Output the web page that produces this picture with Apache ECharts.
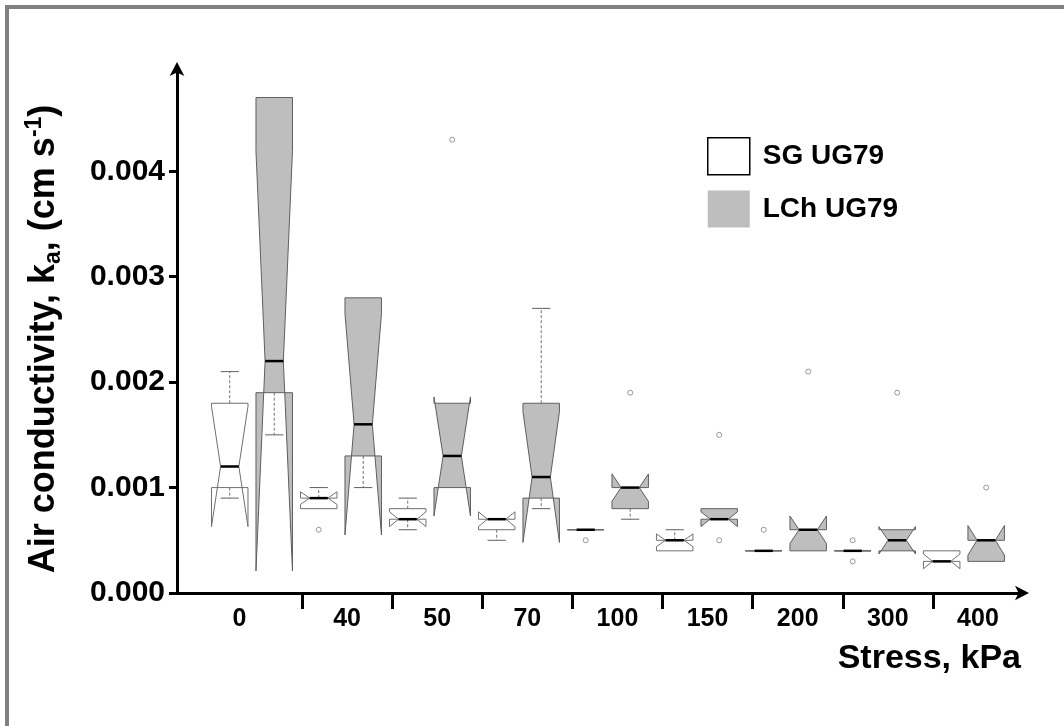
<!DOCTYPE html>
<html>
<head>
<meta charset="utf-8">
<script src="https://cdn.jsdelivr.net/npm/echarts@6/dist/echarts.min.js"></script>
<style>
html, body { margin: 0; padding: 0; background: #ffffff; }
#chart { width: 1064px; height: 726px; }
</style>
</head>
<body>
<div id="chart"></div>
<script>
// ---------------- data ----------------
const stressLabels = ['0', '40', '50', '70', '100', '150', '200', '300', '400'];
const groupNames = ['SG UG79', 'LCh UG79'];
const yTickValues = [0, 0.001, 0.002, 0.003, 0.004];

// one row per stress level: [lowerWhisker, Q1, median, Q3, upperWhisker, notchLow, notchHigh]
const sgStats = [
  [0.0009, 0.0010, 0.0012, 0.0018, 0.0021, 0.00063, 0.00177],
  [0.0008, 0.0008, 0.0009, 0.0009, 0.0010, 0.00084, 0.00096],
  [0.0006, 0.0007, 0.0007, 0.0008, 0.0009, 0.00063, 0.00077],
  [0.0005, 0.0006, 0.0007, 0.0007, 0.0007, 0.00063, 0.00077],
  [0.0006, 0.0006, 0.0006, 0.0006, 0.0006, 0.0006, 0.0006],
  [0.0004, 0.0004, 0.0005, 0.0005, 0.0006, 0.00044, 0.00056],
  [0.0004, 0.0004, 0.0004, 0.0004, 0.0004, 0.0004, 0.0004],
  [0.0004, 0.0004, 0.0004, 0.0004, 0.0004, 0.0004, 0.0004],
  [0.0003, 0.0003, 0.0003, 0.0004, 0.0004, 0.00023, 0.00037]
];
const lchStats = [
  [0.0015, 0.0019, 0.0022, 0.0047, 0.0047, 0.00021, 0.00419],
  [0.0010, 0.0013, 0.0016, 0.0028, 0.0028, 0.00055, 0.00265],
  [0.0010, 0.0010, 0.0013, 0.0018, 0.0018, 0.00073, 0.00186],
  [0.0008, 0.0009, 0.0011, 0.0018, 0.0027, 0.00048, 0.00172],
  [0.0007, 0.0008, 0.0010, 0.0010, 0.0010, 0.00087, 0.00113],
  [0.0007, 0.0007, 0.0007, 0.0008, 0.0008, 0.00063, 0.00077],
  [0.0004, 0.0004, 0.0006, 0.0006, 0.0006, 0.00047, 0.00073],
  [0.0004, 0.0004, 0.0005, 0.0006, 0.0006, 0.00037, 0.00063],
  [0.0003, 0.0003, 0.0005, 0.0005, 0.0005, 0.00036, 0.00064]
];
const sgOutliers = [[], [0.0006], [], [], [0.0005], [], [0.0006], [0.0005, 0.0003], []];
const lchOutliers = [[], [], [0.0043], [], [0.0019], [0.0015, 0.0005], [0.0021], [0.0019], [0.0010]];

// ---------------- helpers ----------------
const FONT = "'Liberation Sans', Arial, Helvetica, sans-serif";
const BOX_W = 0.82;            // box width in x-axis units
const X_MIN = -0.185, X_MAX = 18.85;

function boxData(stats, offset) {
  return stats.map(function (s, i) { return [2 * i + offset].concat(s); });
}
function outlierData(outs, offset) {
  const res = [];
  outs.forEach(function (arr, i) { arr.forEach(function (v) { res.push([2 * i + offset, v]); }); });
  return res;
}

function makeRender(fill, stroke) {
  return function (params, api) {
    const x = api.value(0);
    const wl = api.value(1), q1 = api.value(2), med = api.value(3), q3 = api.value(4),
          wh = api.value(5), nlo = api.value(6), nhi = api.value(7);
    const cx = api.coord([x, med])[0];
    const half = api.size([BOX_W, 0])[0] / 2;
    const Y = function (v) { return api.coord([x, v])[1]; };
    const L = cx - half, R = cx + half, iL = cx - half / 2, iR = cx + half / 2;
    const capHalf = half / 2;
    const children = [];
    const whiskerStyle = { stroke: '#707070', lineWidth: 1, lineDash: [3, 2] };
    const capStyle = { stroke: '#606060', lineWidth: 1 };
    if (wh > q3) {
      children.push({ type: 'line', shape: { x1: cx, y1: Y(q3), x2: cx, y2: Y(wh) }, style: whiskerStyle });
      children.push({ type: 'line', shape: { x1: cx - capHalf, y1: Y(wh), x2: cx + capHalf, y2: Y(wh) }, style: capStyle });
    }
    if (wl < q1) {
      children.push({ type: 'line', shape: { x1: cx, y1: Y(q1), x2: cx, y2: Y(wl) }, style: whiskerStyle });
      children.push({ type: 'line', shape: { x1: cx - capHalf, y1: Y(wl), x2: cx + capHalf, y2: Y(wl) }, style: capStyle });
    }
    const pts = [
      [L, Y(q1)], [R, Y(q1)], [R, Y(nlo)], [iR, Y(med)], [R, Y(nhi)],
      [R, Y(q3)], [L, Y(q3)], [L, Y(nhi)], [iL, Y(med)], [L, Y(nlo)]
    ];
    children.push({ type: 'polygon', shape: { points: pts }, style: { fill: fill, stroke: stroke, lineWidth: 1 } });
    children.push({ type: 'line', shape: { x1: iL, y1: Y(med), x2: iR, y2: Y(med) }, style: { stroke: '#000000', lineWidth: 2.5 } });
    return { type: 'group', children: children };
  };
}

const tickLabelStyle = { fontSize: 25, fontWeight: 'bold', color: '#000', fontFamily: FONT, margin: 14, interval: 0 };

const chart = echarts.init(document.getElementById('chart'), null, { renderer: 'canvas' });
chart.setOption({
  animation: false,
  backgroundColor: '#ffffff',
  textStyle: { fontFamily: FONT },
  graphic: [{
    type: 'rect', silent: true, z: -10,
    shape: { x: 7, y: 7, width: 1100, height: 800 },
    style: { fill: 'none', stroke: '#808080', lineWidth: 4 }
  }],
  legend: {
    orient: 'vertical', left: 707, top: 137, padding: 0,
    itemWidth: 42, itemHeight: 37, itemGap: 15, selectedMode: false,
    textStyle: { fontSize: 28, fontWeight: 'bold', color: '#000', fontFamily: FONT, padding: [0, 0, 0, 8] },
    data: [
      { name: groupNames[0], icon: 'rect', itemStyle: { color: '#ffffff', borderColor: '#000000', borderWidth: 1.5 } },
      { name: groupNames[1], icon: 'rect', itemStyle: { color: '#bebebe', borderWidth: 0 } }
    ]
  },
  grid: [
    { left: 177, right: 40, top: 68, bottom: 133, outerBoundsMode: 'none' },
    { left: 177, width: 125, top: 68, bottom: 133, outerBoundsMode: 'none' },
    { left: 302, right: 41, top: 68, bottom: 133, outerBoundsMode: 'none' }
  ],
  xAxis: [
    {
      gridIndex: 0, type: 'value', min: X_MIN, max: X_MAX,
      axisLine: { show: true, onZero: false, lineStyle: { color: '#000', width: 3 }, symbol: ['none', 'arrow'], symbolSize: [11, 14], symbolOffset: [0, 5] },
      axisTick: { show: false }, axisLabel: { show: false }, splitLine: { show: false },
      name: 'Stress, kPa', nameLocation: 'end', nameGap: -3,
      nameTextStyle: { fontSize: 34, fontWeight: 'bold', color: '#000', fontFamily: FONT, align: 'right', verticalAlign: 'top', padding: [49, 0, 0, 0] }
    },
    {
      gridIndex: 1, type: 'category', data: stressLabels.slice(0, 1),
      axisLine: { show: false }, axisTick: { show: false }, axisLabel: tickLabelStyle, splitLine: { show: false }
    },
    {
      gridIndex: 2, type: 'category', inverse: true, data: stressLabels.slice(1).reverse(),
      axisLine: { show: false },
      axisTick: { show: true, interval: function (i) { return i !== 0; }, length: 16, lineStyle: { color: '#000', width: 3 } },
      axisLabel: tickLabelStyle, splitLine: { show: false }
    }
  ],
  yAxis: [
    {
      gridIndex: 0, type: 'value', min: 0, max: 0.00498,
      axisLine: { show: true, onZero: false, lineStyle: { color: '#000', width: 3 }, symbol: ['none', 'arrow'], symbolSize: [11, 14], symbolOffset: [0, 6] },
      axisTick: { show: true, length: 8, lineStyle: { color: '#000', width: 3 }, customValues: yTickValues },
      axisLabel: { fontSize: 30, fontWeight: 'bold', color: '#000', fontFamily: FONT, margin: 12, customValues: yTickValues,
                   formatter: function (v) { return v.toFixed(3); } },
      splitLine: { show: false },
      name: 'Air conductivity, k{sub|a}, (cm s{sup|-1})',
      nameLocation: 'middle', nameGap: 112,
      nameTextStyle: {
        fontSize: 36, fontWeight: 'bold', color: '#000', fontFamily: FONT, lineHeight: 42, padding: [0, 17, 0, 0],
        rich: {
          sub: { fontSize: 23, fontWeight: 'bold', color: '#000', fontFamily: FONT, verticalAlign: 'bottom', lineHeight: 22 },
          sup: { fontSize: 23, fontWeight: 'bold', color: '#000', fontFamily: FONT, verticalAlign: 'top', lineHeight: 22 }
        }
      }
    },
    { gridIndex: 1, type: 'value', show: false },
    { gridIndex: 2, type: 'value', show: false }
  ],
  series: [
    {
      name: groupNames[0], type: 'custom', xAxisIndex: 0, yAxisIndex: 0, z: 3,
      renderItem: makeRender('#ffffff', '#707070'),
      itemStyle: { color: '#ffffff' },
      encode: { x: 0, y: [1, 2, 3, 4, 5, 6, 7] },
      data: boxData(sgStats, 1)
    },
    {
      name: groupNames[1], type: 'custom', xAxisIndex: 0, yAxisIndex: 0, z: 3,
      renderItem: makeRender('#bebebe', '#5f5f5f'),
      itemStyle: { color: '#bebebe' },
      encode: { x: 0, y: [1, 2, 3, 4, 5, 6, 7] },
      data: boxData(lchStats, 2)
    },
    {
      name: 'outliers', type: 'scatter', xAxisIndex: 0, yAxisIndex: 0, z: 4,
      symbol: 'circle', symbolSize: 5,
      itemStyle: { color: '#ffffff', borderColor: '#808080', borderWidth: 1 },
      data: outlierData(sgOutliers, 1).concat(outlierData(lchOutliers, 2))
    }
  ]
});
</script>
</body>
</html>
